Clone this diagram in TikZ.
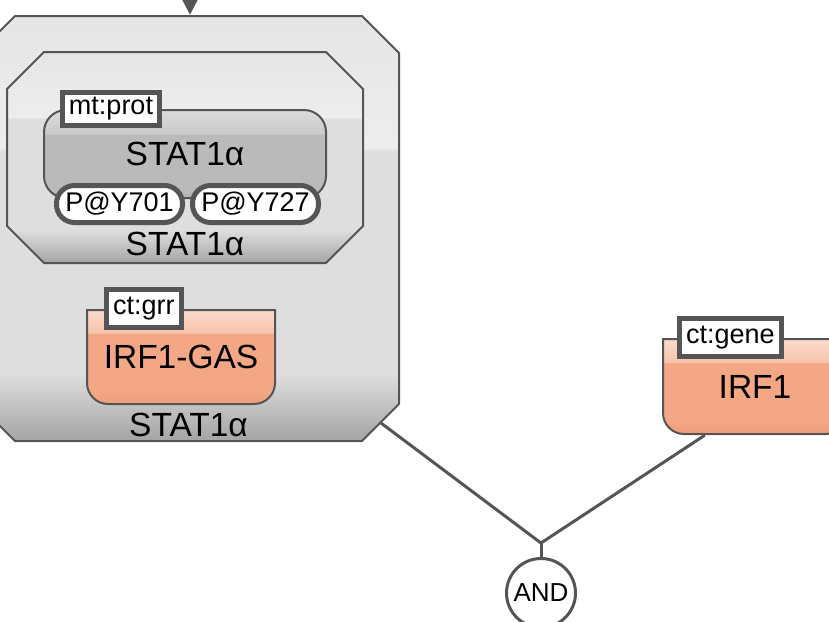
\documentclass[tikz,border=0pt]{standalone}
\usepackage{fontspec}
\setmainfont{Liberation Sans}
\usetikzlibrary{positioning}
\usetikzlibrary{arrows.meta}

\definecolor{linegray}{HTML}{555555}
\definecolor{salmon}{HTML}{F3A784}
\definecolor{salmonmid}{HTML}{F7C3AA}
\definecolor{salmonhi}{HTML}{FBDDCF}
\definecolor{salmondk}{HTML}{EC9C78}
\colorlet{cxdk}{black!36}
\colorlet{cxmid}{black!13}
\colorlet{cxhi}{black!7}
\colorlet{cxtop}{black!10}
\colorlet{mmdk}{black!30}
\colorlet{mmmid}{black!27}
\colorlet{mmhi}{black!21}
\colorlet{mmtop}{black!14}

\pgfdeclareverticalshading{cxshade}{100bp}{color(0bp)=(cxdk); color(25bp)=(cxdk); color(33bp)=(cxmid); color(59bp)=(cxmid); color(59.5bp)=(cxhi); color(75bp)=(cxtop); color(100bp)=(cxtop)}
\pgfdeclareverticalshading{mmshade}{100bp}{color(0bp)=(mmdk); color(25bp)=(mmdk); color(30bp)=(mmmid); color(61bp)=(mmmid); color(61.5bp)=(mmhi); color(75bp)=(mmtop); color(100bp)=(mmtop)}
\pgfdeclareverticalshading{nashade}{100bp}{color(0bp)=(salmondk); color(25bp)=(salmondk); color(32bp)=(salmon); color(62bp)=(salmon); color(62.5bp)=(salmonmid); color(75bp)=(salmonhi); color(100bp)=(salmonhi)}

\begin{document}
\begin{tikzpicture}[x=1pt,y=-1pt,
    cx/.style={inner sep=0pt,
        path picture={\draw[draw=linegray, line width=2pt, shade, shading=cxshade]
            ([shift={(38pt,-1pt)}]path picture bounding box.north west)
            -- ([shift={(-38pt,-1pt)}]path picture bounding box.north east)
            -- ([shift={(-1pt,-38pt)}]path picture bounding box.north east)
            -- ([shift={(-1pt,38pt)}]path picture bounding box.south east)
            -- ([shift={(-38pt,1pt)}]path picture bounding box.south east)
            -- ([shift={(38pt,1pt)}]path picture bounding box.south west)
            -- ([shift={(1pt,38pt)}]path picture bounding box.south west)
            -- ([shift={(1pt,-38pt)}]path picture bounding box.north west) -- cycle;}},
    lbl/.style={font=\fontsize{33.5}{35}\selectfont, inner sep=0pt},
    mm/.style={draw=linegray, line width=2pt, rounded corners=22pt, shade, shading=mmshade,
        font=\fontsize{33.5}{35}\selectfont},
    uoi/.style={draw=linegray, line width=5pt, fill=white, inner sep=4pt, inner xsep=6.5pt,
        font=\fontsize{27}{29}\selectfont},
    sv/.style={uoi, rounded corners=18pt, minimum width=126pt, minimum height=37pt},
    na/.style={inner sep=0pt, font=\fontsize{33.5}{35}\selectfont,
        path picture={\draw[draw=linegray, line width=2pt, shade, shading=nashade]
            ([shift={(1pt,-1pt)}]path picture bounding box.north west)
            -- ([shift={(1pt,22pt)}]path picture bounding box.south west)
            arc[start angle=180, end angle=270, radius=21pt]
            -- ([shift={(-22pt,1pt)}]path picture bounding box.south east)
            arc[start angle=270, end angle=360, radius=21pt]
            -- ([shift={(-1pt,-1pt)}]path picture bounding box.north east) -- cycle;}},
    link/.style={draw=linegray, line width=3pt},
    logic/.style={circle, draw=linegray, line width=3pt, fill=white, minimum size=69pt,
        inner sep=0pt, font=\fontsize{26}{28}\selectfont}]
    \useasboundingbox (0,0) rectangle (829,621);

    % complexes
    \node(outercx) [cx, minimum width=423pt, minimum height=427pt] at (188.5,228.5) {};
    \node(outerlbl) [lbl, above=6pt of outercx.south, anchor=base] {STAT1α};
    \node(innercx) [cx, minimum width=358pt, minimum height=213pt] at (185,157.5) {};
    \node(innerlbl) [lbl, above=9pt of innercx.south, anchor=base] {STAT1α};

    % STAT1 alpha with its states
    \node(stat) [mm, minimum width=282pt, minimum height=88pt] at (185,154) {STAT1α};
    \node(mtprot) [uoi, minimum height=33pt] at ([xshift=68pt]stat.north west) {mt:prot};
    \node(py701) [sv] at (119.5,204) {P@Y701};
    \node(py727) [sv, right=5pt of py701] {P@Y727};

    % genes
    \node(gas) [na, minimum width=190pt, minimum height=96pt] at (181,357) {IRF1-GAS};
    \node(ctgrr) [uoi, minimum height=38pt] at ([xshift=58pt]gas.north west) {ct:grr};
    \node(irf) [na, minimum width=186pt, minimum height=97pt] at (755,386.5) {IRF1};
    \node(ctgene) [uoi, minimum height=38pt] at ([xshift=68.5pt]irf.north west) {ct:gene};

    % logic
    \coordinate(join) at (541,543);
    \node(and) [logic] at (541,593) {AND};
    \draw[link] ([shift={(-19pt,19pt)}]outercx.south east) -- (join);
    \draw[link] ([xshift=43pt]irf.south west) -- (join);
    \draw[link] (join) -- (and);

    % incoming arc
    \coordinate(src) at (190,-40);
    \draw[link, -{Triangle[length=20pt,width=20pt]}] (src) -- (src |- outercx.north);
\end{tikzpicture}
\end{document}
